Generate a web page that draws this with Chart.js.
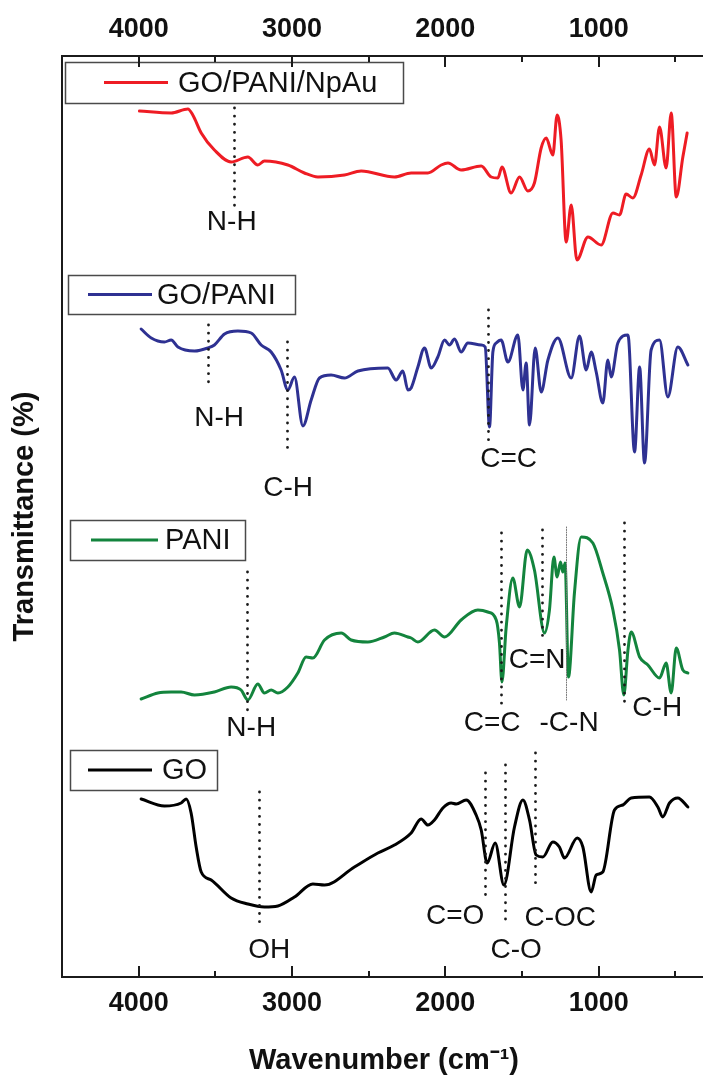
<!DOCTYPE html>
<html>
<head>
<meta charset="utf-8">
<title>FTIR spectra</title>
<script src="https://cdn.jsdelivr.net/npm/chart.js@4.4.1/dist/chart.umd.min.js"></script>
<style>
  html, body { margin: 0; padding: 0; background: #fff; overflow: hidden; }
  #wrap { width: 706px; height: 1078px; }
</style>
</head>
<body>
<div id="wrap"><canvas id="ftirChart" width="706" height="1078"></canvas></div>
<script>
// --- data (wavenumber in cm-1, transmittance in offset a.u.) ---

const seriesNames = ['GO/PANI/NpAu', 'GO/PANI', 'PANI', 'GO'];
const seriesColors = ['#ee1c24', '#2e3192', '#13843d', '#000000'];

const goPaniAuWn = [3995, 3788, 3679, 3647, 3592, 3506, 3397, 3288, 3223, 3180, 3027, 2919, 2831, 2658, 2549,
  2332, 2223, 2114, 2027, 1983, 1897, 1766, 1701, 1657, 1631, 1571, 1516, 1462, 1419, 1375, 1342, 1299, 1271,
  1245, 1212, 1179, 1142, 1070, 984, 907, 864, 821, 777, 723, 669, 636, 603, 560, 527, 494, 451, 423];
const goPaniAuT = [86.6, 86.4, 86.8, 86.2, 84.4, 82.7, 81.5, 82.0, 81.2, 81.6, 81.2, 80.4, 80.0, 80.2, 80.6,
  80.0, 80.4, 80.4, 81.2, 81.4, 80.7, 81.1, 80.0, 79.9, 81.0, 78.4, 80.0, 78.6, 79.4, 82.9, 83.9, 82.2, 86.2,
  83.7, 73.5, 77.2, 71.7, 74.0, 73.2, 76.4, 76.2, 78.3, 77.9, 80.2, 82.8, 81.2, 85.0, 80.9, 86.4, 78.0, 82.0, 84.4];

const goPaniWn = [3984, 3918, 3832, 3788, 3744, 3636, 3549, 3506, 3440, 3353, 3266, 3201, 3136, 3071, 3027,
  2984, 2929, 2875, 2821, 2745, 2658, 2570, 2375, 2321, 2277, 2244, 2223, 2179, 2136, 2092, 2049, 2005, 1973,
  1940, 1897, 1853, 1766, 1740, 1712, 1690, 1668, 1636, 1592, 1527, 1494, 1473, 1451, 1414, 1375, 1331, 1266,
  1179, 1125, 1081, 1049, 1016, 973, 940, 918, 875, 809, 766, 733, 701, 658, 603, 549, 484, 418];
const goPaniT = [64.8, 63.9, 63.5, 63.7, 63.0, 62.6, 62.9, 63.2, 64.3, 64.6, 64.4, 63.2, 62.5, 60.7, 58.7,
  60.0, 55.1, 57.7, 59.9, 60.2, 59.9, 60.6, 60.9, 59.7, 60.6, 58.7, 58.9, 61.0, 62.9, 60.9, 62.0, 63.7, 63.2,
  63.8, 62.5, 63.4, 63.2, 63.0, 55.0, 62.5, 63.4, 63.7, 61.5, 64.2, 58.7, 61.4, 55.2, 62.9, 58.5, 61.7, 63.9,
  59.9, 64.1, 60.7, 62.5, 60.5, 57.4, 61.7, 60.0, 63.4, 64.2, 52.5, 61.0, 51.4, 62.7, 63.7, 58.0, 63.0, 61.2];

const paniWn = [3984, 3875, 3788, 3723, 3636, 3506, 3397, 3332, 3288, 3223, 3180, 3136, 3092, 3027, 2962,
  2908, 2864, 2788, 2679, 2614, 2505, 2397, 2332, 2244, 2223, 2179, 2071, 2005, 1897, 1788, 1723, 1668, 1647,
  1631, 1603, 1560, 1516, 1466, 1419, 1353, 1321, 1292, 1271, 1249, 1234, 1219, 1197, 1158, 1114, 1038, 973,
  907, 864, 836, 809, 788, 733, 679, 603, 560, 527, 494, 451, 418];
const paniT = [27.8, 28.4, 28.5, 28.5, 28.2, 28.5, 29.0, 28.7, 27.7, 29.3, 28.4, 28.7, 28.4, 29.0, 30.4,
  32.0, 31.9, 33.7, 34.4, 33.7, 33.5, 34.0, 34.4, 34.0, 33.9, 33.5, 34.7, 34.0, 35.7, 36.7, 36.5, 35.7, 33.4,
  29.5, 35.0, 39.9, 37.0, 42.7, 40.7, 34.4, 36.7, 42.0, 40.0, 41.5, 40.5, 41.4, 30.0, 38.4, 44.0, 43.4, 40.4,
  36.7, 32.7, 28.2, 32.7, 34.5, 32.0, 31.2, 29.9, 31.4, 28.4, 32.9, 30.7, 30.4];

const goWn = [3984, 3832, 3723, 3690, 3658, 3625, 3592, 3527, 3397, 3288, 3180, 3092, 2984, 2864, 2788,
  2593, 2440, 2332, 2223, 2158, 2114, 2071, 2016, 1962, 1929, 1864, 1799, 1766, 1727, 1675, 1618, 1549, 1494,
  1451, 1408, 1364, 1299, 1256, 1223, 1140, 1103, 1049, 1016, 973, 897, 842, 788, 669, 614, 582, 538, 484, 418];
const goT = [17.8, 17.1, 17.4, 17.8, 16.4, 13.0, 10.5, 9.7, 7.9, 7.3, 7.0, 7.1, 8.0, 9.3, 9.2,
  11.0, 12.4, 13.2, 14.4, 15.8, 15.2, 15.7, 16.9, 17.4, 17.3, 17.7, 16.2, 14.7, 11.4, 13.4, 9.2, 15.0, 17.7,
  15.7, 12.2, 12.0, 13.5, 13.0, 11.9, 13.9, 13.0, 8.5, 10.2, 10.5, 16.7, 17.2, 17.9, 18.0, 17.0, 16.0, 17.4, 17.9, 17.0];

const seriesWn = [goPaniAuWn, goPaniWn, paniWn, goWn];
const seriesT = [goPaniAuT, goPaniT, paniT, goT];

// band assignment markers (dotted lines) and their labels
const markWn     = [3379, 3545, 3031, 1719, 3295, 1640, 1370, 1210, 838, 3216, 1740, 1614, 1413];
const markTop    = [86.9, 65.2, 63.5, 66.7, 40.5, 44.4, 44.7, 45.0, 45.4, 18.5, 20.4, 21.2, 22.4];
const markBottom = [76.5, 58.9, 52.2, 53.4, 26.5, 27.0, 33.4, 27.7, 27.0, 5.2, 8.0, 5.7, 9.0];
const markThin   = [false, false, false, false, false, false, false, true, false, false, false, false, false];

const labelText = ['N-H', 'N-H', 'C-H', 'C=C', 'N-H', 'C=C', 'C=N', '-C-N', 'C-H', 'OH', 'C=O', 'C-O', 'C-OC'];
const labelWn   = [3393, 3475, 3025, 1587, 3266, 1695, 1401, 1193, 618, 3149, 1936, 1538, 1251];
const labelT    = [75.5, 55.9, 48.9, 51.8, 24.9, 25.4, 31.7, 25.4, 26.9, 2.7, 6.1, 2.7, 5.9];

const tickSteps = [500, 1000, 1500, 2000, 2500, 3000, 3500, 4000];
const tickValues = [1000, 2000, 3000, 4000];

// --- chart ---

const fontFamily = "'Liberation Sans', Arial, Helvetica, sans-serif";
const frameColor = '#1b1b1b';
Chart.defaults.font.family = fontFamily;
Chart.defaults.color = '#111';

const datasets = seriesNames.map((name, i) => ({
    label: name,
    data: seriesWn[i].map((w, j) => ({ x: w, y: seriesT[i][j] })),
    borderColor: seriesColors[i],
    borderWidth: 3,
    borderJoinStyle: 'round',
    borderCapStyle: 'round',
    pointRadius: 0,
    cubicInterpolationMode: 'monotone',
    fill: false
}));

// legend boxes are placed by hand, one per curve
const legendLayout = [
    { box: [65, 62, 338, 41], line: [104, 168], textX: 178 },
    { box: [68, 275, 227, 39], line: [88, 152], textX: 157 },
    { box: [70, 520, 175, 40], line: [91, 158], textX: 165 },
    { box: [70, 750, 147, 40], line: [88, 152], textX: 162 }
];

const legendBoxes = {
    id: 'legendBoxes',
    afterDraw(chart) {
        const { ctx } = chart;
        ctx.save();
        legendLayout.forEach((l, i) => {
            const [bx, by, bw, bh] = l.box;
            ctx.fillStyle = '#fff';
            ctx.fillRect(bx, by, bw, bh);
            ctx.strokeStyle = '#4a4a4a';
            ctx.lineWidth = 1.5;
            ctx.strokeRect(bx + 0.5, by + 0.5, bw, bh);
            const cy = by + bh / 2;
            ctx.strokeStyle = seriesColors[i];
            ctx.lineWidth = 3;
            ctx.beginPath();
            ctx.moveTo(l.line[0], cy);
            ctx.lineTo(l.line[1], cy);
            ctx.stroke();
            ctx.fillStyle = '#111';
            ctx.font = '29px ' + fontFamily;
            ctx.textAlign = 'left';
            ctx.textBaseline = 'middle';
            ctx.fillText(seriesNames[i], l.textX, cy + 1);
        });
        ctx.restore();
    }
};

const bandMarks = {
    id: 'bandMarks',
    afterDatasetsDraw(chart) {
        const { ctx, scales: { x, y } } = chart;
        ctx.save();
        ctx.lineCap = 'round';
        markWn.forEach((w, i) => {
            const px = Math.round(x.getPixelForValue(w)) + 0.5;
            ctx.strokeStyle = markThin[i] ? '#777' : '#1a1a1a';
            ctx.lineWidth = markThin[i] ? 1 : 2.8;
            ctx.setLineDash(markThin[i] ? [1, 1.5] : [0.1, 8]);
            ctx.beginPath();
            ctx.moveTo(px, y.getPixelForValue(markTop[i]));
            ctx.lineTo(px, y.getPixelForValue(markBottom[i]));
            ctx.stroke();
        });
        ctx.setLineDash([]);
        ctx.fillStyle = '#111';
        ctx.font = '28px ' + fontFamily;
        ctx.textAlign = 'center';
        ctx.textBaseline = 'middle';
        labelText.forEach((t, i) => {
            ctx.fillText(t, x.getPixelForValue(labelWn[i]), y.getPixelForValue(labelT[i]));
        });
        ctx.restore();
    }
};

// short inward tick marks on top and bottom frame (long ones at the labelled values)
const innerTicks = {
    id: 'innerTicks',
    afterDraw(chart) {
        const { ctx, chartArea: a, scales: { x } } = chart;
        ctx.save();
        ctx.strokeStyle = frameColor;
        ctx.lineWidth = 2;
        x.ticks.forEach(t => {
            const px = Math.round(x.getPixelForValue(t.value));
            const len = tickValues.includes(t.value) ? 11 : 6;
            ctx.beginPath();
            ctx.moveTo(px, a.bottom);
            ctx.lineTo(px, a.bottom - len);
            ctx.moveTo(px, a.top);
            ctx.lineTo(px, a.top + len);
            ctx.stroke();
        });
        ctx.restore();
    }
};

const xTickOptions = {
    autoSkip: false,
    maxRotation: 0,
    padding: 10,
    color: '#111',
    font: { size: 27, weight: 'bold' },
    callback: v => tickValues.includes(v) ? String(v) : ''
};

const useTickSteps = s => { s.ticks = tickSteps.map(v => ({ value: v })); };

new Chart(document.getElementById('ftirChart'), {
    type: 'line',
    data: { datasets },
    options: {
        responsive: false,
        animation: false,
        layout: { padding: 0 },
        plugins: {
            legend: { display: false },
            tooltip: { enabled: false }
        },
        scales: {
            x: {
                type: 'linear',
                position: 'bottom',
                reverse: true,
                min: 300,
                max: 4500,
                grid: { display: false, drawTicks: false },
                border: { display: true, color: frameColor, width: 2 },
                ticks: xTickOptions,
                afterBuildTicks: useTickSteps,
                title: {
                    display: true,
                    text: 'Wavenumber (cm\u207B\u00B9)',
                    color: '#111',
                    font: { size: 29, weight: 'bold' },
                    padding: { top: 0, bottom: 0 }
                },
                afterFit: s => { s.height = 101; }
            },
            x2: {
                type: 'linear',
                position: 'top',
                reverse: true,
                min: 300,
                max: 4500,
                grid: { display: false, drawTicks: false },
                border: { display: true, color: frameColor, width: 2 },
                ticks: xTickOptions,
                afterBuildTicks: useTickSteps,
                afterFit: s => { s.height = 56; }
            },
            y: {
                min: 0,
                max: 92.1,
                grid: { display: false, drawTicks: false },
                border: { display: true, color: frameColor, width: 2 },
                ticks: { display: false },
                title: {
                    display: true,
                    text: 'Transmittance (%)',
                    color: '#111',
                    font: { size: 29, weight: 'bold' },
                    padding: { top: 8, bottom: 0 }
                },
                afterFit: s => { s.width = 62; }
            }
        }
    },
    plugins: [bandMarks, legendBoxes, innerTicks]
});
</script>
</body>
</html>
